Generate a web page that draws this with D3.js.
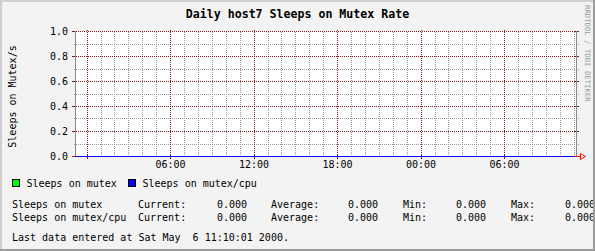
<!DOCTYPE html>
<html>
<head>
<meta charset="utf-8">
<script src="https://cdn.jsdelivr.net/npm/d3@7"></script>
<style>
  html, body { margin: 0; padding: 0; background: #f3f3f3; }
  svg { display: block; }
  text { font-family: "DejaVu Sans Mono", monospace; white-space: pre; }
</style>
</head>
<body>
<div id="chart"></div>
<script>
const title = 'Daily host7 Sleeps on Mutex Rate';
const yLabel = 'Sleeps on Mutex/s';
const sideLabel = 'RRDTOOL / TOBI OETIKER';
const startTime = new Date(2000, 4, 4, 23, 10, 1);
const endTime = new Date(2000, 4, 6, 11, 10, 1);
const xLabelTimes = [
  new Date(2000, 4, 5, 6, 0), new Date(2000, 4, 5, 12, 0), new Date(2000, 4, 5, 18, 0),
  new Date(2000, 4, 6, 0, 0), new Date(2000, 4, 6, 6, 0)
];
const yTicks = [0, 0.2, 0.4, 0.6, 0.8, 1.0];
const yMinorTicks = [0.1, 0.3, 0.5, 0.7, 0.9];
const seriesNames = ['Sleeps on mutex', 'Sleeps on mutex/cpu'];
const seriesColors = ['#00ff00', '#0000ff'];
// samples: first point at the graph start, then one per hour up to 11:00
const sampleTimes = [startTime].concat(d3.timeHour.range(new Date(2000, 4, 5, 0, 0), new Date(2000, 4, 6, 11, 0, 1)));
const mutexValues = [0, 0, 0, 0, 0, 0, 0, 0, 0, 0, 0, 0, 0, 0, 0, 0, 0, 0, 0,
  0, 0, 0, 0, 0, 0, 0, 0, 0, 0, 0, 0, 0, 0, 0, 0, 0, 0];
const cpuValues = [0, 0, 0, 0, 0, 0, 0, 0, 0, 0, 0, 0, 0, 0, 0, 0, 0, 0, 0,
  0, 0, 0, 0, 0, 0, 0, 0, 0, 0, 0, 0, 0, 0, 0, 0, 0, 0];
const statLabels = ['Current:', 'Average:', 'Min:', 'Max:'];
const mutexStats = [0, 0, 0, 0];
const cpuStats = [0, 0, 0, 0];
const lastUpdate = 'Last data entered at Sat May  6 11:10:01 2000.';

const width = 595;
const height = 251;
const plot = { left: 75, right: 576, top: 31, bottom: 156 };
const gridRed = '#7e1a1a';
const gridGray = '#999999';
const axisGray = '#8c8c8c';

const svg = d3.select('#chart')
  .append('svg')
    .attr('width', width)
    .attr('height', height)
    .attr('shape-rendering', 'crispEdges');

// dotted patterns: one pixel on, one pixel off
const defs = svg.append('defs');
[['dotVGray', gridGray, 1, 2], ['dotVRed', gridRed, 1, 2], ['dotHGray', gridGray, 2, 1], ['dotHRed', gridRed, 2, 1]]
  .forEach(([id, color, w, h]) => {
    defs.append('pattern')
      .attr('id', id)
      .attr('patternUnits', 'userSpaceOnUse')
      .attr('width', w).attr('height', h)
      .append('rect')
        .attr('width', 1).attr('height', 1)
        .attr('fill', color);
  });

svg.append('rect')
  .attr('width', width).attr('height', height)
  .attr('fill', '#f3f3f3');

const x = d3.scaleTime().domain([startTime, endTime]).range([plot.left, plot.right]);
const y = d3.scaleLinear().domain([0, 1]).range([plot.bottom, plot.top]);
const px = v => Math.round(v);

// plot canvas
svg.append('rect')
  .attr('x', plot.left).attr('y', plot.top)
  .attr('width', plot.right - plot.left).attr('height', plot.bottom - plot.top)
  .attr('fill', '#ffffff');

const grid = svg.append('g');

// minor vertical grid, every hour
const hours = x.ticks(d3.timeHour.every(1)).filter(d => d.getHours() % 6 !== 0);
grid.selectAll('.vminor')
  .data(hours)
  .enter()
  .append('rect')
    .attr('x', d => px(x(d))).attr('width', 1)
    .attr('y', plot.top).attr('height', plot.bottom - plot.top + 2)
    .attr('fill', 'url(#dotVGray)');

// minor horizontal grid
grid.selectAll('.hminor')
  .data(yMinorTicks)
  .enter()
  .append('rect')
    .attr('x', plot.left - 2).attr('width', plot.right - plot.left + 5)
    .attr('y', d => px(y(d))).attr('height', 1)
    .attr('fill', 'url(#dotHGray)');

// major vertical grid, every 6 hours
const majors = x.ticks(d3.timeHour.every(6));
grid.selectAll('.vmajor')
  .data(majors)
  .enter()
  .append('rect')
    .attr('x', d => px(x(d))).attr('width', 1)
    .attr('y', plot.top - 2).attr('height', plot.bottom - plot.top + 2)
    .attr('fill', 'url(#dotVRed)');
grid.selectAll('.vmajortick')
  .data(majors)
  .enter()
  .append('rect')
    .attr('x', d => px(x(d))).attr('width', 1)
    .attr('y', plot.bottom - 2).attr('height', 5)
    .attr('fill', gridRed);

// major horizontal grid
grid.selectAll('.hmajor')
  .data(yTicks)
  .enter()
  .append('rect')
    .attr('x', plot.left).attr('width', plot.right - plot.left)
    .attr('y', d => px(y(d))).attr('height', 1)
    .attr('fill', 'url(#dotHRed)');
grid.selectAll('.hmajortickL')
  .data(yTicks)
  .enter()
  .append('rect')
    .attr('x', plot.left - 3).attr('width', 5)
    .attr('y', d => px(y(d))).attr('height', 1)
    .attr('fill', gridRed);
grid.selectAll('.hmajortickR')
  .data(yTicks)
  .enter()
  .append('rect')
    .attr('x', plot.right - 2).attr('width', 5)
    .attr('y', d => px(y(d))).attr('height', 1)
    .attr('fill', gridRed);

// side axis lines
grid.append('rect')
  .attr('x', plot.left).attr('width', 1)
  .attr('y', plot.top).attr('height', plot.bottom - plot.top)
  .attr('fill', axisGray);
grid.append('rect')
  .attr('x', plot.right).attr('width', 1)
  .attr('y', plot.top).attr('height', plot.bottom - plot.top)
  .attr('fill', axisGray);

// data
const line = d3.line()
  .x(d => x(d[0]))
  .y(d => px(y(d[1])) + 0.5);
svg.append('path')
  .datum(sampleTimes.map((t, i) => [t, mutexValues[i]]))
  .attr('fill', 'none')
  .attr('stroke', seriesColors[0])
  .attr('d', line);
svg.append('path')
  .datum(sampleTimes.map((t, i) => [t, cpuValues[i]]))
  .attr('fill', 'none')
  .attr('stroke', seriesColors[1])
  .attr('d', line);

// x axis arrow
const y0 = px(y(0)) + 0.5;
svg.append('line')
  .attr('x1', x(sampleTimes[sampleTimes.length - 1])).attr('x2', plot.right + 4)
  .attr('y1', y0).attr('y2', y0)
  .attr('stroke', '#ff0000');
svg.append('line')
  .attr('x1', plot.left - 3).attr('x2', plot.left)
  .attr('y1', y0).attr('y2', y0)
  .attr('stroke', '#ff0000');
svg.append('path')
  .attr('shape-rendering', 'auto')
  .attr('d', `M${plot.right + 4.5},${y0 - 3} L${plot.right + 9.5},${y0} L${plot.right + 4.5},${y0 + 3} Z`)
  .attr('fill', 'none')
  .attr('stroke', '#ff0000')
  .attr('stroke-width', 1);

// tick labels
svg.append('g')
  .selectAll('text')
  .data(yTicks)
  .enter()
  .append('text')
    .attr('x', 68)
    .attr('y', d => y(d) + 3.5)
    .attr('text-anchor', 'end')
    .attr('font-size', '10px')
    .text(d3.format('.1f'));

svg.append('g')
  .selectAll('text')
  .data(xLabelTimes)
  .enter()
  .append('text')
    .attr('x', d => x(d) + 0.5)
    .attr('y', 168)
    .attr('text-anchor', 'middle')
    .attr('font-size', '10px')
    .text(d3.timeFormat('%H:%M'));

// titles
svg.append('text')
  .attr('x', 297.5).attr('y', 18)
  .attr('text-anchor', 'middle')
  .attr('font-size', '11.6px')
  .attr('font-weight', 'bold')
  .text(title);

svg.append('text')
  .attr('transform', 'translate(15.5,96.5) rotate(-90)')
  .attr('text-anchor', 'middle')
  .attr('font-size', '10px')
  .text(yLabel);

svg.append('text')
  .attr('transform', 'translate(585,5) rotate(90)')
  .attr('font-size', '7.3px')
  .attr('fill', '#9a9a9a')
  .text(sideLabel);

// legend
const legendX = [12.5, 128.5];
seriesNames.forEach((name, i) => {
  svg.append('rect')
    .attr('x', legendX[i]).attr('y', 179.5)
    .attr('width', 7).attr('height', 7)
    .attr('fill', seriesColors[i])
    .attr('stroke', '#000000');
  svg.append('text')
    .attr('x', legendX[i] + 14).attr('y', 187)
    .attr('font-size', '10px')
    .text(name);
});

// statistics
const statRows = [mutexStats, cpuStats];
const labelX = [138, 271, 403, 511];
const valueX = [247, 378, 486, 595];
statRows.forEach((row, r) => {
  const by = 208 + r * 13;
  svg.append('text')
    .attr('x', 12).attr('y', by)
    .attr('font-size', '10px')
    .text(seriesNames[r]);
  row.forEach((v, i) => {
    svg.append('text')
      .attr('x', labelX[i]).attr('y', by)
      .attr('font-size', '10px')
      .text(statLabels[i]);
    svg.append('text')
      .attr('x', valueX[i]).attr('y', by)
      .attr('text-anchor', 'end')
      .attr('font-size', '10px')
      .text(d3.format('.3f')(v));
  });
});

svg.append('text')
  .attr('x', 12).attr('y', 241)
  .attr('font-size', '10px')
  .text(lastUpdate);

// frame
const frame = svg.append('g').attr('fill', 'none');
frame.append('path')
  .attr('d', `M1,${height} L1,1 L${width},1`)
  .attr('stroke', '#cfcfcf').attr('stroke-width', 2);
frame.append('path')
  .attr('d', `M0,${height - 1} L${width - 1},${height - 1} L${width - 1},0`)
  .attr('stroke', '#9c9c9c').attr('stroke-width', 2);
</script>
</body>
</html>
